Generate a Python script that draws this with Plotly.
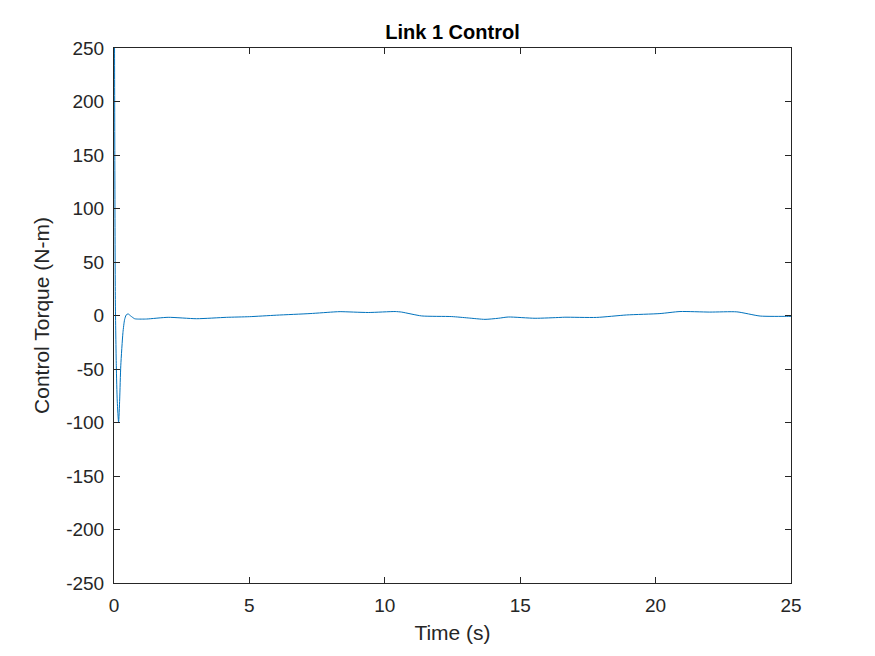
import plotly.graph_objects as go

time_s = [0.0, 0.02, 0.05, 0.085, 0.12, 0.17, 0.21, 0.25, 0.33, 0.39, 0.45, 0.52, 0.62, 0.76, 0.84,
          1.2, 2.0, 3.05, 4.16, 5.0, 6.0, 7.24, 8.16, 8.35, 9.39, 10.38, 10.62, 11.36, 12.47, 13.08,
          13.7, 14.19, 14.56, 15.55, 16.47, 16.65, 17.82, 18.93, 20.16, 20.9, 22.0, 23.0, 23.86,
          24.84, 25.0]
torque = [500.0, 250.0, 15.0, -47.0, -80.0, -100.0, -78.0, -47.0, -16.0, -4.0, 0.5, 1.5, -0.5, -3.0, -3.3,
          -3.3, -1.7, -3.0, -1.7, -1.1, 0.3, 1.8, 3.4, 3.6, 2.8, 3.7, 3.2, -0.4, -1.0, -2.3,
          -3.6, -2.6, -1.4, -2.6, -1.8, -1.6, -1.8, 0.5, 1.8, 3.7, 3.2, 3.4, -0.5,
          -0.8, -0.8]

x_ticks = [0, 5, 10, 15, 20, 25]
y_ticks = [-250, -200, -150, -100, -50, 0, 50, 100, 150, 200, 250]
y_tick_labels = ["-250", "-200", "-150", "-100", "-50", "0", "50", "100", "150", "200", "250"]

FONT = "Liberation Sans, Arial"

fig = go.Figure()
fig.add_trace(go.Scatter(x=time_s, y=torque, mode="lines",
                         line=dict(color="#0072BD", width=1, shape="spline", smoothing=0.6),
                         showlegend=False))

axis_common = dict(showline=True, linecolor="#262626", linewidth=1, mirror="ticks",
                   ticks="inside", ticklen=6, tickcolor="#262626", showgrid=False, zeroline=False,
                   tickfont=dict(family=FONT, size=19, color="#262626"))

fig.update_layout(
    width=875, height=656,
    margin=dict(l=106, r=92, t=40, b=81),
    paper_bgcolor="white", plot_bgcolor="white",
    title=dict(text="<b>Link 1 Control</b>", x=0.5, xanchor="center", y=0.953, yanchor="bottom",
               xref="paper",
               font=dict(family=FONT, size=20, color="black")),
    xaxis=dict(range=[0, 25], tickvals=x_ticks, ticklabelstandoff=5,
               title=dict(text="Time (s)", standoff=10,
                          font=dict(family=FONT, size=21, color="#262626")),
               **axis_common),
    yaxis=dict(range=[-250, 250], tickvals=y_ticks, ticktext=y_tick_labels,
               ticklabelstandoff=5,
               title=dict(text="Control Torque (N-m)", standoff=10,
                          font=dict(family=FONT, size=21, color="#262626")),
               **axis_common),
)

fig.write_html("out.html")
